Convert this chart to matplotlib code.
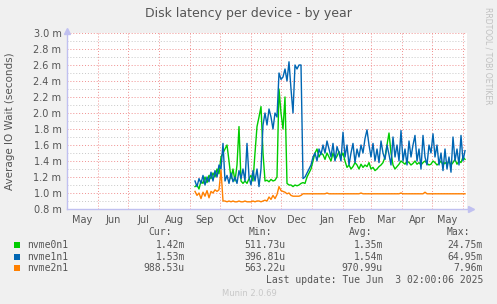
import numpy as np
import pandas as pd
import matplotlib
matplotlib.use('Agg')
import matplotlib.pyplot as plt

# values in milliseconds, one point every 2 days starting 2024-09-06
nvme0n1 = [
    1.08, 1.10, 1.05, 1.15, 1.12, 1.20, 1.13, 1.22, 1.18, 1.25, 1.20, 1.30, 1.24,
    1.45, 1.50, 1.55, 1.60, 1.40, 1.18, 1.30, 1.15, 1.35, 1.83, 1.15, 1.12, 1.15, 1.12, 1.18,
    1.22, 1.15, 1.50, 1.83, 1.95, 2.08, 1.50, 1.15, 1.16, 1.14, 1.17, 1.15, 1.16, 1.20, 2.30,
    2.00, 1.80, 2.20, 1.12, 1.10, 1.10, 1.08, 1.10, 1.09, 1.10, 1.12, 1.13, 1.12, 1.20, 1.25,
    1.30, 1.40, 1.50, 1.55, 1.45, 1.50, 1.48, 1.42, 1.50, 1.45, 1.40, 1.50, 1.42, 1.46, 1.52,
    1.45, 1.50, 1.40, 1.32, 1.35, 1.30, 1.33, 1.38, 1.35, 1.30, 1.36, 1.32, 1.35, 1.33, 1.38,
    1.30, 1.32, 1.28, 1.30, 1.33, 1.35, 1.38, 1.45, 1.60, 1.75, 1.50, 1.35, 1.30, 1.33, 1.36,
    1.40, 1.38, 1.36, 1.40, 1.38, 1.35, 1.37, 1.40, 1.36, 1.38, 1.35, 1.38, 1.40, 1.37, 1.35,
    1.36, 1.40, 1.38, 1.35, 1.37, 1.40, 1.35, 1.38, 1.36, 1.40, 1.35, 1.38, 1.42, 1.36, 1.40,
    1.38, 1.45, 1.42,
]
nvme1n1 = [
    1.15, 1.08, 1.18, 1.12, 1.22, 1.10, 1.20, 1.14, 1.26, 1.15, 1.28, 1.20, 1.35,
    1.30, 1.62, 1.15, 1.22, 1.12, 1.25, 1.14, 1.20, 1.12, 1.28, 1.18, 1.30, 1.15, 1.62, 1.20,
    1.10, 1.28, 1.15, 1.30, 1.08, 1.30, 1.85, 2.00, 1.85, 2.05, 1.95, 1.80, 2.00, 1.95, 2.50,
    2.42, 2.45, 2.55, 2.40, 2.64, 2.30, 2.00, 2.60, 2.55, 2.60, 2.60, 1.18, 1.20, 1.25, 1.30,
    1.35, 1.45, 1.50, 1.40, 1.55, 1.48, 1.60, 1.50, 1.65, 1.55, 1.45, 1.62, 1.40, 1.58, 1.50,
    1.40, 1.76, 1.45, 1.60, 1.35, 1.50, 1.62, 1.38, 1.55, 1.45, 1.60, 1.50, 1.68, 1.79, 1.60,
    1.45, 1.62, 1.40, 1.55, 1.38, 1.65, 1.50, 1.42, 1.60, 1.48, 1.35, 1.70, 1.45, 1.60, 1.40,
    1.78, 1.40, 1.55, 1.35, 1.65, 1.45, 1.60, 1.72, 1.40, 1.55, 1.30, 1.72, 1.45, 1.35, 1.60,
    1.50, 1.74, 1.45, 1.60, 1.35, 1.50, 1.28, 1.55, 1.30, 1.45, 1.26, 1.70, 1.40, 1.55, 1.35,
    1.72, 1.40, 1.53,
]
nvme2n1 = [
    1.02, 0.97, 1.00, 0.93, 1.01, 0.96, 1.03, 0.94, 1.02, 1.00, 1.04, 1.02, 1.04,
    1.29, 0.90, 0.90, 0.89, 0.90, 0.89, 0.90, 0.89, 0.89, 0.90, 0.89, 0.89, 0.90, 0.89, 0.89,
    0.89, 0.90, 0.89, 0.90, 0.90, 0.89, 0.90, 0.91, 0.90, 0.95, 0.92, 0.97, 0.93, 0.98, 1.08,
    1.03, 1.02, 1.01, 0.99, 1.00, 0.97, 0.96, 0.96, 0.96, 0.96, 0.97, 0.99, 0.99, 0.99, 0.99,
    0.99, 0.99, 0.99, 0.99, 0.99, 0.99, 0.99, 0.99, 1.00, 0.99, 0.99, 0.99, 0.99, 0.99, 0.99,
    0.99, 0.99, 0.99, 0.99, 0.99, 0.99, 0.99, 0.99, 0.99, 0.99, 1.00, 0.99, 0.99, 0.99, 0.99,
    0.99, 0.99, 0.99, 0.99, 0.99, 0.99, 0.99, 0.99, 0.99, 0.99, 0.99, 0.99, 0.99, 0.99, 0.99,
    1.00, 0.99, 0.99, 0.99, 0.99, 0.99, 0.99, 0.99, 0.99, 0.99, 0.99, 0.99, 1.01, 0.99, 0.99,
    0.99, 0.99, 0.99, 0.99, 0.99, 0.99, 0.99, 0.99, 0.99, 0.99, 0.99, 0.99, 0.99, 0.99, 0.99,
    0.99, 0.99, 0.99,
]
series_names = ['nvme0n1', 'nvme1n1', 'nvme2n1']
series_colors = ['#00CC00', '#0066B3', '#FF8000']
cur_vals = ['1.42m', '1.53m', '988.53u']
min_vals = ['511.73u', '396.81u', '563.22u']
avg_vals = ['1.35m', '1.54m', '970.99u']
max_vals = ['24.75m', '64.95m', '7.96m']
month_labels = ['May', 'Jun', 'Jul', 'Aug', 'Sep', 'Oct', 'Nov', 'Dec',
                'Jan', 'Feb', 'Mar', 'Apr', 'May']

dates = pd.date_range('2024-09-06', periods=len(nvme0n1), freq='2D')
t0 = pd.Timestamp('2024-05-01')
days = np.array((dates - t0).days, dtype=float)
month_starts = pd.date_range('2024-05-01', '2025-06-01', freq='MS')
ms_days = np.array((month_starts - t0).days, dtype=float)
mid_days = (ms_days[:-1] + ms_days[1:]) / 2

W, H = 497, 304
fig = plt.figure(figsize=(W / 100, H / 100), dpi=100, facecolor='#F0F0F0')
ax = fig.add_axes([67 / W, (H - 209) / H, 400 / W, 176 / H])
ax.set_facecolor('white')

ax.set_xlim(0, 400)
ax.set_ylim(0.8, 3.0)

# grid
for y in np.arange(0.9, 3.0, 0.2):
    ax.axhline(y, color='#C8C8C8', lw=0.7, ls=(0, (1, 2)), zorder=1)
for y in np.arange(1.0, 3.01, 0.2):
    ax.axhline(y, color='#F09090', lw=0.7, ls=(0, (1, 2)), zorder=1)
for x in ms_days[1:]:
    ax.axvline(x, color='#F09090', lw=0.7, ls=(0, (1, 2)), zorder=1)

for vals, c in zip([nvme0n1, nvme1n1, nvme2n1], series_colors):
    ax.plot(days, vals, color=c, lw=1.0, zorder=3)

for s in ['top', 'right']:
    ax.spines[s].set_visible(False)
for s in ['left', 'bottom']:
    ax.spines[s].set_color('#C0C0F0')
    ax.spines[s].set_linewidth(1.0)
ax.plot([1.01], [0], marker='>', ms=4, color='#C0C0F0', transform=ax.transAxes, clip_on=False)
ax.plot([0], [1.012], marker='^', ms=4, color='#C0C0F0', transform=ax.transAxes, clip_on=False)

yt = np.arange(0.8, 3.01, 0.2)
ax.set_yticks(yt)
ax.set_yticklabels([f'{v:.1f} m' for v in yt])
ax.set_xticks(mid_days)
ax.set_xticklabels(month_labels)
ax.tick_params(length=0, labelsize=7, colors='#555555', pad=4)

fig.text(248 / W, 1 - 14 / H, 'Disk latency per device - by year', ha='center', va='center',
         fontsize=9, color='#555555')
fig.text(10 / W, 1 - 121 / H, 'Average IO Wait (seconds)', rotation=90, ha='center', va='center',
         fontsize=7.5, color='#555555')
fig.text(488 / W, 1 - 56 / H, 'RRDTOOL / TOBI OETIKER', rotation=270, ha='center', va='center',
         fontsize=5.5, color='#C0C0C0')

mono = dict(family='DejaVu Sans Mono', fontsize=7, color='#555555')
hy = 1 - 232 / H
for txt, xr in [('Cur:', 172), ('Min:', 272), ('Avg:', 372), ('Max:', 470)]:
    fig.text(xr / W, hy, txt, ha='right', va='center', **mono)
for i, name in enumerate(series_names):
    ry = 1 - (245 + i * 11.7) / H
    fig.patches.append(plt.Rectangle((14 / W, ry - 3 / H), 6 / W, 6 / H, transform=fig.transFigure,
                                     facecolor=series_colors[i], edgecolor='none'))
    fig.text(27 / W, ry, name, ha='left', va='center', **mono)
    for col, xr in [(cur_vals, 185), (min_vals, 285), (avg_vals, 383), (max_vals, 483)]:
        fig.text(xr / W, ry, col[i], ha='right', va='center', **mono)
fig.text(483 / W, 1 - 280 / H, 'Last update: Tue Jun  3 02:00:06 2025', ha='right', va='center', **mono)
fig.text(249 / W, 1 - 293 / H, 'Munin 2.0.69', ha='center', va='center', fontsize=6, color='#C8C8C8')

fig.savefig('out.png', dpi=100, facecolor=fig.get_facecolor())
